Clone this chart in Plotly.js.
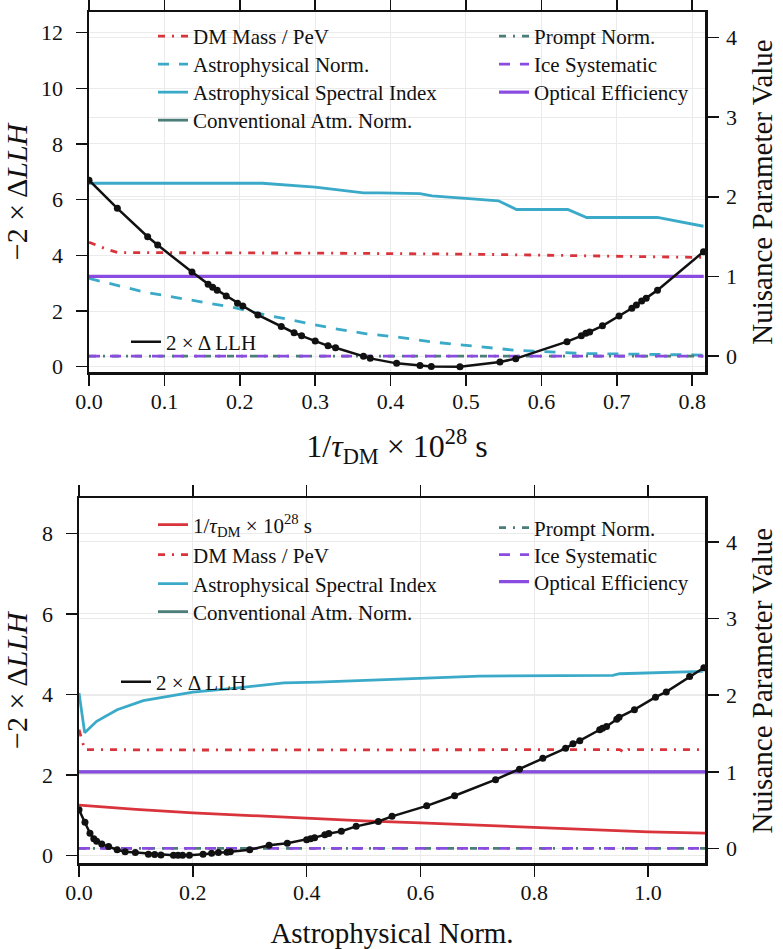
<!DOCTYPE html>
<html>
<head>
<meta charset="utf-8">
<script src="https://cdn.plot.ly/plotly-3.0.1.min.js"></script>
<style>html,body{margin:0;padding:0;background:#fff;}#chart{width:783px;height:949px;}</style>
</head>
<body>
<div id="chart"></div>
<script>
// ---------- Top panel: scan in 1/tau_DM ----------
const topLLH_x = [0.0, 0.0376, 0.0778, 0.0911, 0.1366, 0.158, 0.164, 0.170, 0.182, 0.197, 0.204, 0.224, 0.255, 0.272, 0.282, 0.300, 0.317, 0.327, 0.364, 0.373, 0.408, 0.439, 0.454, 0.492, 0.545, 0.566, 0.634, 0.653, 0.659, 0.664, 0.681, 0.703, 0.720, 0.726, 0.733, 0.739, 0.754, 0.815];
const topLLH_y = [6.70, 5.69, 4.67, 4.37, 3.40, 2.96, 2.85, 2.75, 2.54, 2.28, 2.18, 1.86, 1.44, 1.22, 1.11, 0.92, 0.75, 0.68, 0.38, 0.30, 0.12, 0.04, 0.01, 0.00, 0.17, 0.29, 0.90, 1.11, 1.20, 1.25, 1.47, 1.82, 2.10, 2.22, 2.36, 2.46, 2.75, 4.13];

const topDM_x = [0.0, 0.021, 0.038, 0.1, 0.2, 0.3, 0.4, 0.5, 0.6, 0.7, 0.815];
const topDM_y = [1.43, 1.35, 1.30, 1.295, 1.295, 1.293, 1.29, 1.28, 1.267, 1.25, 1.238];

const topAstroNorm_x = [0.0, 0.072, 0.13, 0.191, 0.236, 0.28, 0.324, 0.368, 0.412, 0.452, 0.5, 0.563, 0.651, 0.815];
const topAstroNorm_y = [0.975, 0.807, 0.711, 0.611, 0.514, 0.43, 0.347, 0.28, 0.235, 0.18, 0.138, 0.075, 0.033, 0.013];

const topAstroIdx_x = [0.0, 0.23, 0.30, 0.364, 0.386, 0.439, 0.455, 0.489, 0.543, 0.567, 0.635, 0.660, 0.754, 0.815];
const topAstroIdx_y = [2.17, 2.17, 2.12, 2.05, 2.05, 2.04, 2.01, 1.99, 1.95, 1.84, 1.84, 1.74, 1.74, 1.63];

const topConv_x = [0.0, 0.815];
const topConv_y = [1.0, 1.0];
const topPrompt_x = [0.0, 0.815];
const topPrompt_y = [0.0, 0.0];
const topIce_x = [0.0, 0.815];
const topIce_y = [0.0, 0.0];
const topOpt_x = [0.0, 0.815];
const topOpt_y = [1.0, 1.0];

// ---------- Bottom panel: scan in Astrophysical Norm. ----------
const botLLH_x = [0.0, 0.0105, 0.0193, 0.026, 0.031, 0.040, 0.052, 0.067, 0.081, 0.099, 0.122, 0.133, 0.144, 0.166, 0.174, 0.182, 0.194, 0.218, 0.233, 0.245, 0.260, 0.266, 0.300, 0.334, 0.366, 0.400, 0.407, 0.414, 0.432, 0.439, 0.461, 0.487, 0.526, 0.550, 0.611, 0.660, 0.732, 0.774, 0.815, 0.855, 0.868, 0.880, 0.915, 0.920, 0.927, 0.945, 0.949, 0.976, 1.013, 1.032, 1.073, 1.098];
const botLLH_y = [1.13, 0.82, 0.55, 0.41, 0.35, 0.28, 0.22, 0.14, 0.09, 0.07, 0.03, 0.02, 0.01, 0.0, 0.0, 0.0, 0.0, 0.025, 0.05, 0.07, 0.08, 0.09, 0.14, 0.25, 0.30, 0.39, 0.41, 0.44, 0.51, 0.54, 0.60, 0.72, 0.84, 0.97, 1.23, 1.48, 1.88, 2.14, 2.41, 2.66, 2.77, 2.85, 3.12, 3.16, 3.20, 3.38, 3.43, 3.62, 3.93, 4.06, 4.44, 4.66];

const botTau_x = [0.0, 0.1, 0.2, 0.3, 0.4, 0.5, 0.6, 0.7, 0.8, 0.9, 1.0, 1.1];
const botTau_y = [0.565, 0.51, 0.465, 0.43, 0.39, 0.36, 0.335, 0.305, 0.27, 0.24, 0.215, 0.2];

const botDM_x = [0.0, 0.005, 0.01, 0.2, 0.4, 0.6, 0.8, 0.95, 0.959, 0.965, 1.1];
const botDM_y = [1.55, 1.42, 1.29, 1.285, 1.285, 1.29, 1.29, 1.29, 1.25, 1.29, 1.29];

const botAstroIdx_x = [0.0, 0.01, 0.031, 0.067, 0.113, 0.2, 0.271, 0.36, 0.42, 0.529, 0.704, 0.938, 0.95, 1.096];
const botAstroIdx_y = [2.03, 1.51, 1.66, 1.81, 1.93, 2.04, 2.09, 2.16, 2.17, 2.20, 2.25, 2.26, 2.28, 2.31];

const botConv_x = [0.0, 1.1];
const botConv_y = [1.0, 1.0];
const botPrompt_x = [0.0, 1.1];
const botPrompt_y = [0.0, 0.0];
const botIce_x = [0.0, 1.1];
const botIce_y = [0.0, 0.0];
const botOpt_x = [0.0, 1.1];
const botOpt_y = [1.0, 1.0];

// ---------- Labels ----------
const lblTau = "1/<i>τ</i><sub>DM</sub> × 10<sup>28</sup> s";
const lblDM = "DM Mass / PeV";
const lblAstroNorm = "Astrophysical Norm.";
const lblAstroIdx = "Astrophysical Spectral Index";
const lblConv = "Conventional Atm. Norm.";
const lblPrompt = "Prompt Norm.";
const lblIce = "Ice Systematic";
const lblOpt = "Optical Efficiency";
const lblLLH = "2 × Δ LLH";

const RED = "#d9343c", CYAN = "#3aaac8", TEAL = "#4b7d79", PURPLE = "#8a4be0";
const DASHDOT = "7px,7px,2px,7px";
const DASH = "11px,10px";

function ln(x, y, name, color, dash, xa, ya, leg, width) {
  return {x: x, y: y, name: name, type: "scatter", mode: "lines",
    line: {color: color, width: width || 2.8, dash: dash},
    xaxis: xa, yaxis: ya, legend: leg, showlegend: true};
}
function llh(x, y, xa, ya) {
  return {x: x, y: y, name: lblLLH, type: "scatter", mode: "lines+markers",
    line: {color: "#111", width: 2.5}, marker: {color: "#111", size: 7},
    xaxis: xa, yaxis: ya, showlegend: false};
}
function llhKey(xa, ya, leg) {
  // legend entry only (line sample without markers)
  return {x: [null], y: [null], name: lblLLH, type: "scatter", mode: "lines",
    line: {color: "#111", width: 2.5}, xaxis: xa, yaxis: ya, legend: leg, showlegend: true};
}

const traces = [
  ln(topDM_x, topDM_y, lblDM, RED, DASHDOT, "x", "y", "legend"),
  ln(topAstroNorm_x, topAstroNorm_y, lblAstroNorm, CYAN, DASH, "x", "y", "legend2"),
  ln(topAstroIdx_x, topAstroIdx_y, lblAstroIdx, CYAN, "solid", "x", "y", "legend3"),
  ln(topConv_x, topConv_y, lblConv, TEAL, "solid", "x", "y", "legend4"),
  ln(topPrompt_x, topPrompt_y, lblPrompt, TEAL, DASHDOT, "x", "y", "legend5"),
  ln(topIce_x, topIce_y, lblIce, PURPLE, DASH, "x", "y", "legend6"),
  ln(topOpt_x, topOpt_y, lblOpt, PURPLE, "solid", "x", "y", "legend7", 3.2),
  llh(topLLH_x, topLLH_y, "x", "y2"),
  llhKey("x", "y2", "legend8"),
  ln(botTau_x, botTau_y, lblTau, RED, "solid", "x2", "y3", "legend9"),
  ln(botDM_x, botDM_y, lblDM, RED, DASHDOT, "x2", "y3", "legend10"),
  ln(botAstroIdx_x, botAstroIdx_y, lblAstroIdx, CYAN, "solid", "x2", "y3", "legend11"),
  ln(botConv_x, botConv_y, lblConv, TEAL, "solid", "x2", "y3", "legend12"),
  ln(botPrompt_x, botPrompt_y, lblPrompt, TEAL, DASHDOT, "x2", "y3", "legend13"),
  ln(botIce_x, botIce_y, lblIce, PURPLE, DASH, "x2", "y3", "legend14"),
  ln(botOpt_x, botOpt_y, lblOpt, PURPLE, "solid", "x2", "y3", "legend15", 3.2),
  llh(botLLH_x, botLLH_y, "x2", "y4"),
  llhKey("x2", "y4", "legend16")
];

const FONT = "Liberation Serif, Times New Roman, serif";
const tickFont = {family: FONT, size: 22, color: "#111"};
function tf(size) { return {family: FONT, size: size, color: "#111"}; }
const GRID = "#ebebeb";

function xax(domain, anchor, range, dtick, fmt, title, tsize, standoff) {
  return {domain: domain, anchor: anchor, range: range, dtick: dtick, tick0: 0, tickformat: fmt,
    showline: true, linecolor: "#111", linewidth: 2.5, mirror: "ticks",
    ticks: "outside", ticklen: 11, tickwidth: 1.5, tickcolor: "#111",
    showgrid: true, gridcolor: GRID, gridwidth: 1, zeroline: false,
    tickfont: tickFont, ticklabelstandoff: -3,
    title: {text: title, font: tf(tsize), standoff: standoff}};
}
function yax(extra) {
  return Object.assign({showline: true, linecolor: "#111", linewidth: 2.5,
    ticks: "outside", ticklen: 11, tickwidth: 1.5, tickcolor: "#111",
    showgrid: true, gridcolor: GRID, gridwidth: 1, zeroline: false,
    tickfont: tickFont, tick0: 0}, extra);
}

const W = 705, PH = 851, B = 863;
function px(p) { return p / W; }
function py(p) { return (B - p) / PH; }

// legend placed by text start x and row centre y (pixels)
function legendAt(textX, rowY) {
  return {x: px(textX - 40), y: py(rowY), xref: "paper", yref: "paper", xanchor: "left", yanchor: "middle",
    bgcolor: "rgba(0,0,0,0)", borderwidth: 0,
    font: {family: FONT, size: 21, color: "#111"}, itemwidth: 30};
}

const layout = {
  width: 783, height: 949,
  margin: {l: 0, r: 78, t: 12, b: 86},
  paper_bgcolor: "#fff", plot_bgcolor: "#fff",
  showlegend: true,
  xaxis: xax([89 / W, 1], "y", [0, 0.817], 0.1, ".1f", lblTau, 32, 22),
  yaxis: yax({domain: [py(372), 1], anchor: "x", side: "right", range: [-0.2, 4.32], dtick: 1,
    ticklabelstandoff: 3,
    title: {text: "Nuisance Parameter Value", font: tf(29), standoff: 16}}),
  yaxis2: yax({overlaying: "y", anchor: "x", side: "left", range: [-0.19, 12.74], dtick: 2,
    ticklabelstandoff: 8,
    title: {text: "−2 × Δ<i>LLH</i>", font: tf(30), standoff: 10}}),
  xaxis2: xax([79 / W, 1], "y3", [0, 1.1], 0.2, ".1f", "Astrophysical Norm.", 29, 26),
  yaxis3: yax({domain: [0, py(498.3)], anchor: "x2", side: "right", range: [-0.19, 4.57], dtick: 1,
    ticklabelstandoff: 3,
    title: {text: "Nuisance Parameter Value", font: tf(29), standoff: 16}}),
  yaxis4: yax({overlaying: "y3", anchor: "x2", side: "left", range: [-0.19, 8.87], dtick: 2,
    ticklabelstandoff: 8,
    title: {text: "−2 × Δ<i>LLH</i>", font: tf(30), standoff: 10}}),
  legend: legendAt(193, 36.5),
  legend2: legendAt(193, 64.5),
  legend3: legendAt(193, 92.5),
  legend4: legendAt(193, 120.5),
  legend5: legendAt(534, 36.5),
  legend6: legendAt(534, 64.5),
  legend7: legendAt(534, 92.5),
  legend8: legendAt(166, 342),
  legend9: legendAt(193, 525),
  legend10: legendAt(193, 555),
  legend11: legendAt(193, 584),
  legend12: legendAt(193, 612),
  legend13: legendAt(534, 528),
  legend14: legendAt(534, 555),
  legend15: legendAt(534, 582),
  legend16: legendAt(156, 682)
};

Plotly.newPlot("chart", traces, layout, {displayModeBar: false, staticPlot: true});
</script>
</body>
</html>
